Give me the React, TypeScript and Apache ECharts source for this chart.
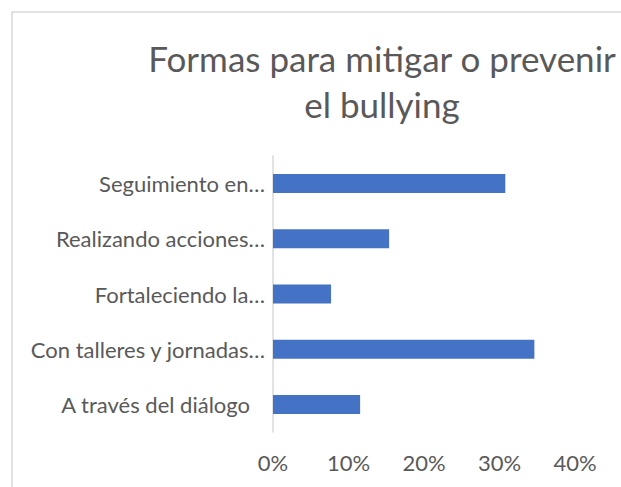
import React, { useEffect, useRef } from "react";
import * as echarts from "echarts";

const titleText = "Formas para mitigar o prevenir\nel bullying";
const categories = [
  "A través del diálogo",
  "Con talleres y jornadas…",
  "Fortaleciendo la…",
  "Realizando acciones…",
  "Seguimiento en…",
];
const values = [11.54, 34.62, 7.69, 15.38, 30.77];
const FONT = "Lato, 'Open Sans', sans-serif";

export default function App() {
  const ref = useRef<HTMLDivElement>(null);
  useEffect(() => {
    if (!ref.current) return;
    const chart = echarts.init(ref.current, null, { renderer: "svg" });
    chart.setOption({
      animation: false,
      backgroundColor: "#ffffff",
      textStyle: { fontFamily: FONT },
      title: {
        text: titleText,
        left: 377,
        top: 30,
        textAlign: "center",
        textStyle: {
          fontFamily: FONT,
          fontSize: 35,
          fontWeight: "normal",
          color: "#595959",
          lineHeight: 46,
          align: "center",
        },
      },
      graphic: [
        {
          type: "rect",
          shape: { x: 12, y: 12, width: 800, height: 800 },
          style: { fill: "none", stroke: "#d9d9d9", lineWidth: 1.5 },
          silent: true,
          z: -1,
        },
      ],
      grid: { left: 273, right: 46, top: 156, bottom: 55, containLabel: false },
      xAxis: {
        type: "value",
        min: 0,
        max: 40,
        interval: 10,
        axisLine: { show: false },
        axisTick: { show: false },
        splitLine: { show: false },
        axisLabel: {
          formatter: "{value}%",
          color: "#595959",
          fontSize: 22,
          fontFamily: FONT,
          margin: 19,
        },
      },
      yAxis: {
        type: "category",
        data: categories,
        axisLine: { show: true, lineStyle: { color: "#d9d9d9", width: 1.5 } },
        axisTick: { show: false },
        axisLabel: {
          color: "#595959",
          fontSize: 22,
          fontFamily: FONT,
          margin: 8,
          formatter: (v: string) => (v.endsWith("…") ? v : "{p|" + v + "}"),
          rich: {
            p: {
              color: "#595959",
              fontSize: 22,
              fontFamily: FONT,
              padding: [0, 15, 0, 0],
            },
          },
        },
      },
      series: [
        {
          type: "bar",
          data: values,
          barWidth: 19,
          itemStyle: { color: "#4472C4" },
        },
      ],
    });
    return () => chart.dispose();
  }, []);
  return (
    <div
      ref={ref}
      style={{ position: "fixed", left: 0, top: 0, width: 621, height: 487 }}
    />
  );
}
